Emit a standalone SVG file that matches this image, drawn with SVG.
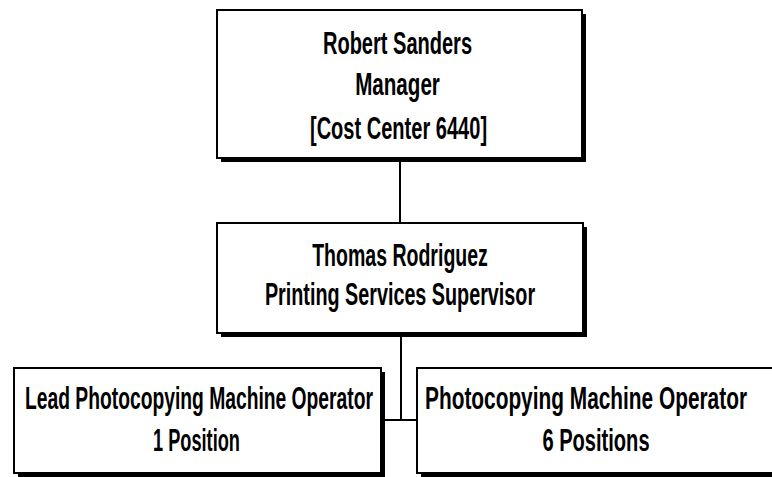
<svg xmlns="http://www.w3.org/2000/svg" width="772" height="477" viewBox="0 0 772 477">
<style>
.sh{fill:#000}
.bx{fill:#fff;stroke:#000;stroke-width:2}
.t{font-family:"Liberation Sans",Arial,sans-serif;font-weight:bold;font-size:32px;fill:#000;text-anchor:middle}
.c{stroke:#000;stroke-width:2;fill:none}
</style>
<rect width="772" height="477" fill="#fff"/>
<g id="connectors">
<line class="c" x1="400" y1="162" x2="400" y2="223"/>
<line class="c" x1="401" y1="337" x2="401" y2="420"/>
<line class="c" x1="384" y1="420" x2="417" y2="420"/>
</g>
<g id="manager">
<rect class="sh" x="221" y="14" width="365" height="148"/>
<rect class="bx" x="217" y="10" width="365" height="148"/>
<text class="t" transform="translate(397.5 54) scale(0.7 1)" textLength="213" lengthAdjust="spacingAndGlyphs">Robert Sanders</text>
<text class="t" transform="translate(397.5 95) scale(0.7 1)" textLength="121" lengthAdjust="spacingAndGlyphs">Manager</text>
<text class="t" transform="translate(398.5 139) scale(0.7 1)" textLength="253" lengthAdjust="spacingAndGlyphs">[Cost Center 6440]</text>
</g>
<g id="supervisor">
<rect class="sh" x="221" y="227" width="366" height="110"/>
<rect class="bx" x="217" y="223" width="366" height="110"/>
<text class="t" transform="translate(400 266) scale(0.7 1)" textLength="251" lengthAdjust="spacingAndGlyphs">Thomas Rodriguez</text>
<text class="t" transform="translate(400 305) scale(0.7 1)" textLength="386" lengthAdjust="spacingAndGlyphs">Printing Services Supervisor</text>
</g>
<g id="lead">
<rect class="sh" x="18" y="372" width="367" height="105"/>
<rect class="bx" x="14" y="368" width="367" height="105"/>
<text class="t" transform="translate(199 409) scale(0.7 1)" textLength="497" lengthAdjust="spacingAndGlyphs">Lead Photocopying Machine Operator</text>
<text class="t" transform="translate(196.5 451) scale(0.7 1)" textLength="124" lengthAdjust="spacingAndGlyphs">1 Position</text>
</g>
<g id="operator">
<rect class="sh" x="421" y="372" width="360" height="105"/>
<rect class="bx" x="417" y="368" width="360" height="105"/>
<text class="t" transform="translate(586 409) scale(0.7 1)" textLength="460" lengthAdjust="spacingAndGlyphs">Photocopying Machine Operator</text>
<text class="t" transform="translate(596 451) scale(0.7 1)" textLength="153" lengthAdjust="spacingAndGlyphs">6 Positions</text>
</g>
</svg>
